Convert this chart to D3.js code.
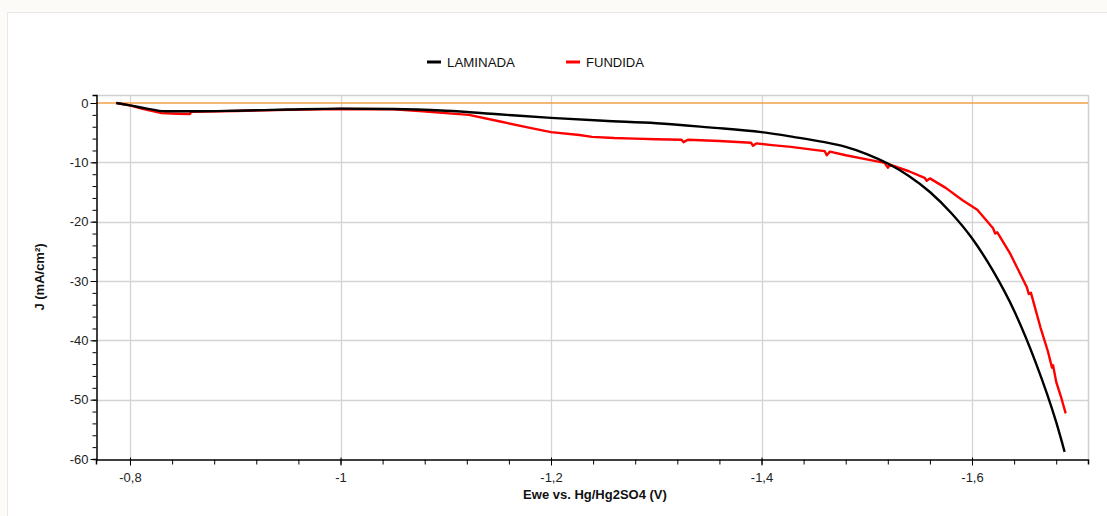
<!DOCTYPE html>
<html><head><meta charset="utf-8">
<script src="https://cdn.jsdelivr.net/npm/d3@7/dist/d3.min.js"></script>
<style>
html,body{margin:0;padding:0;background:#fcfbf8;}
svg{display:block;font-family:Arial,"Liberation Sans",sans-serif;}
</style></head><body>
<svg id="c" width="1107" height="516"></svg>
<script>
// Data: potential (V) and current density (mA/cm²)
const seriesNames = ["LAMINADA", "FUNDIDA"];
const seriesColors = ["#000000", "#ff0000"];
const laminadaE = [-0.787,-0.80,-0.815,-0.833,-0.86,-0.90,-0.95,-1.00,-1.05,-1.10,-1.15,-1.20,-1.25,-1.30,-1.35,-1.40,-1.43,-1.46,-1.48,-1.50,-1.52,-1.54,-1.56,-1.58,-1.60,-1.62,-1.64,-1.66,-1.68,-1.688];
const laminadaJ = [0,-0.4,-0.9,-1.4,-1.4,-1.3,-1.1,-0.95,-1.0,-1.3,-1.9,-2.5,-3.0,-3.4,-4.1,-4.9,-5.7,-6.6,-7.4,-8.6,-10.2,-12.3,-15.0,-18.5,-22.8,-28.3,-35.0,-43.5,-53.8,-58.8];
const fundidaE = [-0.787,-0.80,-0.812,-0.83,-0.845,-0.857,-0.858,-0.90,-0.95,-1.00,-1.05,-1.075,-1.10,-1.122,-1.154,-1.18,-1.20,-1.227,-1.239,-1.26,-1.28,-1.30,-1.324,-1.326,-1.33,-1.36,-1.39,-1.392,-1.395,-1.41,-1.428,-1.45,-1.46,-1.462,-1.465,-1.48,-1.50,-1.517,-1.52,-1.522,-1.54,-1.555,-1.557,-1.56,-1.575,-1.591,-1.605,-1.620,-1.622,-1.624,-1.636,-1.652,-1.654,-1.656,-1.665,-1.672,-1.676,-1.677,-1.680,-1.685,-1.689];
const fundidaJ = [0,-0.4,-1.0,-1.7,-1.8,-1.85,-1.5,-1.35,-1.15,-1.0,-1.05,-1.35,-1.7,-2.0,-3.2,-4.2,-4.9,-5.4,-5.7,-5.9,-6.0,-6.1,-6.2,-6.6,-6.2,-6.4,-6.7,-7.2,-6.8,-7.1,-7.4,-7.9,-8.1,-8.8,-8.2,-8.8,-9.5,-10.1,-10.9,-10.4,-11.5,-12.6,-13.1,-12.7,-14.3,-16.4,-18.0,-21.1,-22.0,-21.8,-25.3,-31.0,-32.2,-32.0,-37.8,-41.8,-44.6,-44.2,-47.0,-49.8,-52.3];
const xTicks = [-0.8,-1.0,-1.2,-1.4,-1.6];
const yTicks = [0,-10,-20,-30,-40,-50,-60];
const xTitle = "Ewe vs. Hg/Hg2SO4 (V)";
const yTitle = "J (mA/cm²)";

const svg = d3.select("#c");
// outer panel
svg.append("rect").attr("x",7.5).attr("y",12.5).attr("width",1120).attr("height",520)
  .attr("fill","#fff").attr("stroke","#e8e8e8");

const L=96, R=1088, T=95, B=459;
const x = d3.scaleLinear().domain([-0.7677,-1.7102]).range([L,R]);
const y = d3.scaleLinear().domain([1.35,-60]).range([T,B]);

// grid
const g = svg.append("g");
g.selectAll(".gx").data(xTicks).join("line")
  .attr("x1",d=>Math.round(x(d))+0.5).attr("x2",d=>Math.round(x(d))+0.5)
  .attr("y1",T).attr("y2",B).attr("stroke","#d4d4d4").attr("stroke-width",1.3);
g.selectAll(".gy").data(yTicks.slice(1,-1)).join("line")
  .attr("x1",L).attr("x2",R)
  .attr("y1",d=>Math.round(y(d))+0.5).attr("y2",d=>Math.round(y(d))+0.5)
  .attr("stroke","#d4d4d4").attr("stroke-width",1.3);
// top & right border
svg.append("line").attr("x1",L).attr("x2",R).attr("y1",T+0.5).attr("y2",T+0.5).attr("stroke","#d0d0d0").attr("stroke-width",1.5);
svg.append("line").attr("x1",R+0.5).attr("x2",R+0.5).attr("y1",T).attr("y2",B).attr("stroke","#d0d0d0").attr("stroke-width",1.5);

// zero line
svg.append("line").attr("x1",L).attr("x2",R).attr("y1",y(0)).attr("y2",y(0))
  .attr("stroke","#f0a048").attr("stroke-width",1.5);

const fmt = d => d3.format("~g")(d).replace(".",",").replace("−","-");
// x axis
const xMinor = d3.range(0,25).map(i=>-0.8-0.04*i).filter(v=>v>=-1.7102 && v<=-0.7677);
const xa = svg.append("g").attr("transform",`translate(0,${B+0.5})`)
  .call(d3.axisBottom(x).tickValues(xMinor).tickSize(5).tickFormat(""));
xa.select(".domain").attr("stroke","#000").attr("stroke-width",1.5);
xa.selectAll(".tick line").attr("stroke","#000");
const xl = svg.append("g").attr("transform",`translate(0,${B+0.5})`)
  .call(d3.axisBottom(x).tickValues(xTicks).tickSize(6).tickFormat(fmt));
xl.select(".domain").remove();
xl.selectAll(".tick line").attr("stroke","#000").attr("y1",-2);
xl.selectAll(".tick text").attr("font-size",13).attr("fill","#222").attr("dy","1.05em").attr("font-family","Arial, Liberation Sans, sans-serif");

// y axis
const yMinor = d3.range(0,31).map(i=>-2*i);
const ya = svg.append("g").attr("transform",`translate(${L+0.5},0)`)
  .call(d3.axisLeft(y).tickValues(yMinor).tickSize(4).tickFormat(""));
ya.select(".domain").attr("stroke","#000").attr("stroke-width",1.5);
ya.selectAll(".tick line").attr("stroke","#000");
const yl = svg.append("g").attr("transform",`translate(${L+0.5},0)`)
  .call(d3.axisLeft(y).tickValues(yTicks).tickSize(6).tickFormat(fmt));
yl.select(".domain").remove();
yl.selectAll(".tick line").attr("stroke","#000");
yl.selectAll(".tick text").attr("font-size",13).attr("fill","#222").attr("x",-8).attr("font-family","Arial, Liberation Sans, sans-serif");

// lines
const line = d3.line().x(d=>x(d[0])).y(d=>y(d[1]));
const fund = fundidaE.map((e,i)=>[e,fundidaJ[i]]);
const lam = laminadaE.map((e,i)=>[-e,laminadaJ[i]]);
svg.append("path").datum(fund).attr("d",line).attr("fill","none").attr("stroke",seriesColors[1]).attr("stroke-width",2.4).attr("stroke-linejoin","round");
svg.append("path").datum(lam).attr("d",d3.line().x(d=>x(-d[0])).y(d=>y(d[1])).curve(d3.curveMonotoneX)).attr("fill","none").attr("stroke",seriesColors[0]).attr("stroke-width",2.4).attr("stroke-linejoin","round");

// titles
svg.append("text").attr("x",595).attr("y",499).attr("text-anchor","middle")
  .attr("font-size",13).attr("font-weight","bold").attr("fill","#111").text(xTitle);
svg.append("text").attr("transform","translate(44,277) rotate(-90)").attr("text-anchor","middle")
  .attr("font-size",13).attr("font-weight","bold").attr("fill","#111").text(yTitle);

// legend
const legX = [427,566];
seriesNames.forEach((n,i)=>{
  svg.append("line").attr("x1",legX[i]).attr("x2",legX[i]+14).attr("y1",62).attr("y2",62)
    .attr("stroke",seriesColors[i]).attr("stroke-width",3);
  svg.append("text").attr("x",legX[i]+20).attr("y",66.5).attr("font-size",12).attr("fill","#111")
    .attr("textLength",i===0?68:58).attr("lengthAdjust","spacingAndGlyphs").text(n);
});
</script>
</body></html>
